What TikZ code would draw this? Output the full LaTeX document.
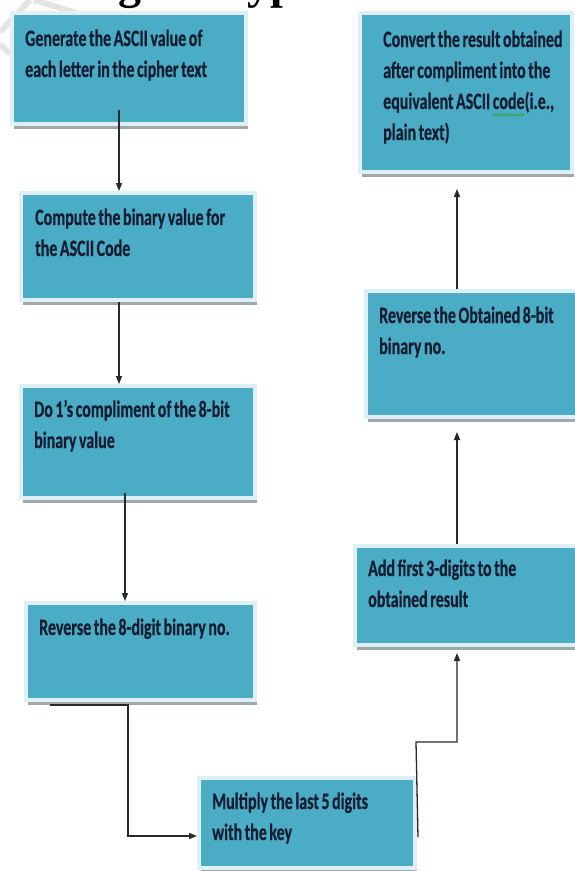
\documentclass[tikz,border=0pt]{standalone}
\usepackage{fontspec}
\usetikzlibrary{arrows.meta,shadows,fit,calc,decorations.pathmorphing}

\newfontfamily\boxfont[FakeStretch=0.68,WordSpace=0.7,FakeBold=0.5]{Carlito}
\newfontfamily\titlefont{Liberation Serif}

\definecolor{boxblue}{RGB}{75,172,198}
\definecolor{boxrim}{RGB}{222,240,246}
\definecolor{shadowgrey}{RGB}{160,168,172}
\definecolor{textnavy}{RGB}{20,30,50}
\definecolor{lineblack}{RGB}{40,40,40}
\definecolor{wavegreen}{RGB}{60,160,70}
\definecolor{markgrey}{RGB}{228,228,228}

% green spell-check squiggle under a word
\newsavebox\wavebox
\newcommand\spellwave[1]{\sbox\wavebox{#1}\rlap{\usebox\wavebox}%
  \begin{tikzpicture}[x=1pt,y=1pt,baseline=0pt]
    \useasboundingbox (0,0) rectangle (\the\wd\wavebox,0);
    \draw[wavegreen, line width=0.8pt, decorate,
      decoration={zigzag, amplitude=1pt, segment length=3pt}]
      (0,-6) -- (\the\wd\wavebox,-6);
  \end{tikzpicture}}

\tikzset{
  flowbox/.style={draw=boxrim, line width=4pt, fill=boxblue, inner sep=0pt,
    drop shadow={shadow xshift=2pt, shadow yshift=-5pt, fill=shadowgrey, opacity=1}},
  boxtext/.style={anchor=base west, inner sep=0pt, text=textnavy,
    font=\boxfont\bfseries\fontsize{23.5}{31}\selectfont},
  conn/.style={draw=lineblack, line width=1.3pt},
  arr/.style={conn, -{Triangle[length=8pt,width=6pt]}},
  wmark/.style={draw=markgrey, line width=6pt},
}

\newcommand\lines[1]{\parbox[t]{320pt}{\raggedright #1}}

\begin{document}
\begin{tikzpicture}[x=1pt,y=-1pt]
\useasboundingbox (0,0) rectangle (574,871);

% faint watermark strokes in the corner
\draw[wmark] (0,32) -- (30,0);
\draw[wmark] (34,0) -- (80,14);
\draw[wmark] (0,44) -- (10,54);

% heading, cut by the top edge of the page
\node[anchor=base west, inner sep=0pt, outer sep=0pt,
      font=\titlefont\bfseries\fontsize{46}{46}\selectfont]
  (title) at (80,-1.5) {ing Decryption};

% boxes (rim centre line)
\node[flowbox, fit={(12,13) (246,124)}] (b1) {};
\node[flowbox, fit={(21,193) (255,300)}] (b2) {};
\node[flowbox, fit={(21,386) (255,498)}] (b3) {};
\node[flowbox, fit={(26,603) (255,700)}] (b4) {};
\node[flowbox, fit={(199,778) (415,868)}] (b5) {};
\node[flowbox, fit={(360,13) (572,172)}] (r1) {};
\node[flowbox, fit={(366,291) (578,417)}] (r2) {};
\node[flowbox, fit={(355,546) (578,645)}] (r3) {};

% box texts
\node[boxtext] (t1) at (25,46) {\lines{Generate the ASCII value of\\each letter in the cipher text}};
\node[boxtext] (t2) at (35,225) {\lines{Compute the binary value for\\the ASCII Code}};
\node[boxtext] (t3) at (34,417) {\lines{Do 1’s compliment of the 8-bit\\binary value}};
\node[boxtext] (t4) at (39,635) {\lines{Reverse the 8-digit binary no.}};
\node[boxtext] (t5) at (212,809) {\lines{Multiply the last 5 digits\\with the key}};
\node[boxtext] (u1) at (383,47) {\lines{Convert the result obtained\\after compliment into the\\equivalent ASCII \spellwave{code}(i.e.,\\plain text)}};
\node[boxtext] (u2) at (379,323) {\lines{Reverse the Obtained 8-bit\\binary no.}};
\node[boxtext] (u3) at (368,576) {\lines{Add first 3-digits to the\\obtained result}};

% guide coordinates for connector routes
\coordinate (xa) at (119,0);
\coordinate (xb) at (125,0);
\coordinate (xs) at (50,0);
\coordinate (xc) at (457,0);
\coordinate (k45) at (128,836);
\coordinate (s53) at (0,837);
\coordinate (k53) at (416,742);

% connectors
\draw[arr] ([yshift=16pt]b1.south -| xa) -- (b2.north -| xa);
\draw[arr] (b2.south -| xa) -- (b3.north -| xa);
\draw[arr] ([yshift=7pt]b3.south -| xb) -- (b4.north -| xb);
\draw[arr] ([yshift=-3pt]b4.south -| xs) -| (k45) -- (b5.west |- k45);
\draw[arr] ([xshift=1pt]b5.east |- s53) -- (k53) -| ([yshift=-6pt]r3.south -| xc);
\draw[arr] (r3.north -| xc) -- ([yshift=-13pt]r2.south -| xc);
\draw[arr] (r2.north -| xc) -- ([yshift=-15pt]r1.south -| xc);
\end{tikzpicture}
\end{document}
